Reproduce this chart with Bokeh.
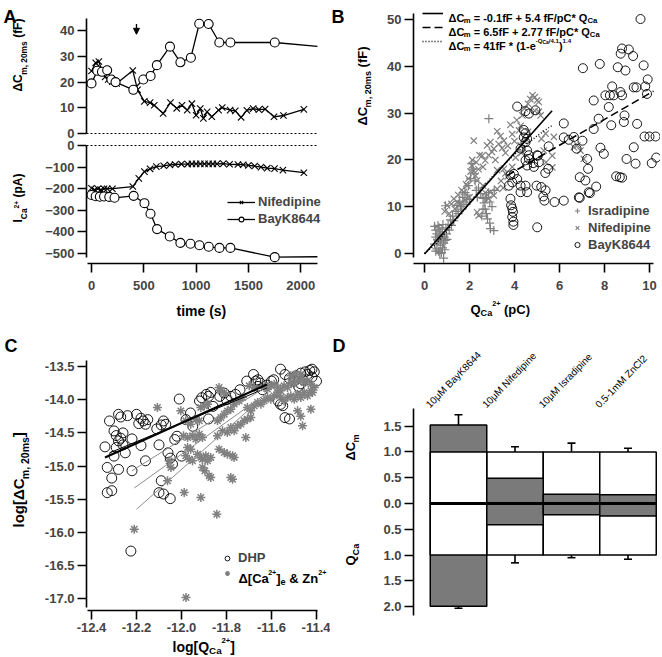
import numpy as np
from bokeh.plotting import figure
from bokeh.layouts import row, column
from bokeh.models import (Range1d, Label, Legend, LegendItem, FixedTicker, LinearAxis,
                          Arrow, NormalHead, Whisker, TeeHead, ColumnDataSource,
                          CustomJSTickFormatter, NumeralTickFormatter)
from bokeh.embed import file_html
from bokeh.resources import INLINE

FONT = "Liberation Sans"
GRAY = "#808080"

# ---------------- Panel A data ----------------
a_nif_cm_t = [0, 40, 70, 100, 130, 160, 200, 240, 395, 440, 505, 560, 600, 685, 755, 815, 865, 915, 960, 1000, 1040, 1070, 1105, 1150, 1215, 1250, 1325, 1375, 1430, 1485, 1545, 1600, 1660, 1745, 1835, 2030]
a_nif_cm = [24.3, 27.5, 28.0, 24.5, 22.0, 21.0, 20.2, 19.5, 24.5, 17.0, 12.5, 12.0, 11.0, 7.8, 12.0, 9.8, 11.0, 9.1, 11.6, 7.1, 9.7, 5.9, 8.4, 6.5, 9.1, 10.1, 9.1, 8.8, 6.3, 9.0, 9.7, 9.3, 9.5, 6.5, 7.0, 9.4]
a_bay_cm_t = [0, 55, 100, 150, 190, 230, 400, 495, 565, 625, 750, 850, 950, 1030, 1120, 1222, 1328, 1752]
a_bay_cm = [19.5, 24.4, 24.0, 24.6, 21.0, 20.0, 17.0, 21.0, 22.4, 26.6, 33.8, 27.7, 29.5, 42.7, 42.6, 35.4, 35.4, 35.4]
a_nif_i_t = [0, 30, 60, 90, 120, 150, 200, 395, 452, 506, 560, 620, 690, 750, 800, 860, 920, 960, 1000, 1040, 1080, 1120, 1160, 1200, 1260, 1320, 1400, 1450, 1500, 1560, 1620, 1680, 1750, 1830, 2030]
a_nif_i = [-198, -205, -200, -205, -200, -200, -200, -190, -152, -121, -108, -98, -94, -90, -88, -86, -86, -85, -85, -85, -85, -85, -85, -85, -84, -87, -88, -89, -92, -95, -100, -105, -107, -114, -126]
a_bay_i_t = [0, 40, 80, 120, 170, 220, 403, 506, 564, 627, 748, 850, 946, 1032, 1121, 1223, 1328, 1752]
a_bay_i = [-229, -235, -237, -236, -238, -242, -233, -267, -316, -387, -421, -451, -455, -462, -469, -474, -474, -517]
a_end_t = 2160            # recording continues (no symbol) to the end of the axis
a_bay_cm_end = 33.9
a_bay_i_end = -515
a_arrow_t = 430
a_cm_ticks = [0, 10, 20, 30, 40]
a_i_ticks = [0, -100, -200, -300, -400, -500]
a_t_ticks = [0, 500, 1000, 1500, 2000]

# ---------------- Panel B data (Q pC, dCm fF) ----------------
b_isr = [(0.45, 2.0), (0.5, 3.5), (0.5, 5.0), (0.55, 1.0), (0.55, 4.2), (0.6, 2.8), (0.6, 6.0), (0.62, 0.5),
         (0.65, 3.8), (0.65, 5.5), (0.7, 1.8), (0.7, 4.6), (0.72, 2.5), (0.75, 0.2), (0.75, 3.2), (0.78, 5.2),
         (0.8, 1.2), (0.8, 4.0), (0.85, 2.2), (0.85, -1.0), (0.88, 3.5), (0.9, 0.8), (0.92, 2.8), (0.95, 5.5),
         (0.98, 4.2), (1.0, 3.0), (1.05, 6.2), (1.1, 5.0), (0.45, 5.8), (0.5, 0.5), (0.58, 3.0), (0.68, 0.0),
         (0.82, 6.2), (0.93, 10.2), (1.15, 7.2), (1.2, 6.0), (1.25, 8.0), (1.3, 7.0), (1.4, 9.0), (1.45, 10.3),
         (1.5, 8.5), (1.55, 11.2), (1.6, 10.0), (1.65, 9.5), (1.7, 12.0), (1.75, 11.0), (1.8, 13.0), (1.85, 10.5),
         (1.9, 12.5), (1.95, 14.5), (2.0, 11.5), (2.05, 16.0), (2.1, 19.2), (2.15, 18.0), (2.2, 17.0), (2.25, 15.5),
         (2.3, 13.5), (2.35, 12.0), (2.4, 14.0), (2.5, 12.8), (2.6, 11.8), (2.65, 10.8), (2.7, 9.5), (2.75, 8.5),
         (2.8, 7.4), (2.85, 13.0), (2.9, 6.5), (2.93, 5.3), (3.08, 4.9), (2.86, 28.8), (2.7, 11.8), (2.6, 9.5),
         (2.75, 12.0), (3.0, 10.0), (2.55, 8.0), (2.9, 11.0), (3.1, 13.5)]
b_nif = [(0.9, 9.0), (1.0, 10.3), (1.1, 8.5), (1.2, 10.6), (1.3, 11.7), (1.35, 9.5), (1.45, 11.0), (1.5, 12.5),
         (1.6, 10.5), (1.65, 13.5), (1.75, 13.1), (1.8, 11.5), (1.85, 14.8), (1.9, 14.5), (1.95, 16.0), (2.0, 12.0),
         (2.05, 17.5), (2.1, 18.8), (2.12, 20.0), (2.19, 24.1), (2.19, 17.7), (2.27, 16.6), (2.34, 15.6), (2.3, 19.5),
         (2.4, 18.0), (2.45, 21.0), (2.56, 20.9), (2.6, 18.5), (2.7, 19.9), (2.78, 23.1), (2.85, 21.0), (2.93, 23.8),
         (3.0, 21.7), (3.08, 22.4), (3.15, 20.0), (3.23, 26.1), (3.3, 23.4), (3.38, 25.1), (3.45, 22.5), (3.53, 24.1),
         (3.6, 21.5), (3.7, 23.0), (3.82, 27.5), (3.9, 25.5), (4.0, 24.0), (4.1, 28.5), (4.2, 26.3), (4.27, 27.3),
         (4.35, 29.5), (4.45, 31.0), (4.6, 32.0), (4.7, 33.0), (4.8, 33.8), (4.9, 33.4), (5.0, 32.7), (5.08, 32.4),
         (5.08, 30.3), (5.16, 29.5), (4.9, 30.5), (5.38, 25.6), (5.75, 24.9), (5.68, 20.9), (5.68, 18.4), (6.64, 22.7),
         (6.79, 23.1), (6.93, 22.0), (7.08, 20.2), (4.27, 23.1), (4.41, 22.4), (3.53, 18.1), (3.6, 17.1), (3.23, 17.8),
         (2.93, 13.1), (3.08, 12.4), (3.23, 13.8), (2.85, 11.7), (2.34, 8.8), (2.41, 8.1), (2.6, 14.5), (2.7, 13.0),
         (3.4, 15.5), (3.5, 14.0), (3.7, 16.5), (3.9, 18.5), (4.05, 20.5), (4.3, 21.5), (4.5, 24.5), (4.6, 26.0),
         (5.4, 19.5), (5.3, 22.0), (5.2, 24.5)]
b_bay = [(3.75, 14.5), (3.82, 16.7), (3.9, 15.2), (3.97, 17.0), (4.12, 15.9), (4.27, 14.5), (4.27, 13.1), (4.49, 14.5),
         (4.56, 13.1), (3.82, 11.7), (3.85, 10.3), (3.9, 9.6), (3.93, 8.9), (3.9, 7.8), (3.95, 6.8), (3.95, 6.1),
         (4.12, 31.4), (4.49, 30.4), (4.64, 29.9), (4.93, 30.6), (4.41, 26.4), (4.49, 25.7), (4.41, 24.8), (4.56, 24.5),
         (4.49, 23.8), (4.27, 22.4), (4.56, 22.0), (4.64, 21.0), (4.49, 19.9), (4.56, 18.8), (4.64, 20.2), (5.01, 21.0),
         (5.08, 19.5), (4.86, 18.5), (5.01, 5.6), (4.98, 14.5), (5.19, 14.2), (5.38, 13.5), (5.28, 12.2), (5.33, 11.3),
         (5.04, 20.9), (4.83, 19.3), (5.5, 18.1), (5.37, 17.2), (5.52, 22.9), (5.78, 11.0), (6.19, 24.8), (6.41, 24.3),
         (6.64, 24.9), (7.02, 24.1), (6.19, 27.8), (6.76, 22.4), (6.9, 16.3), (7.15, 15.6), (7.35, 12.9), (6.9, 11.9),
         (7.23, 20.2), (7.27, 18.1), (7.63, 14.3), (7.82, 22.6), (7.52, 26.6), (7.74, 28.8), (8.3, 27.4), (8.86, 28.1),
         (8.89, 29.5), (9.45, 27.7), (7.52, 32.7), (8.04, 33.8), (8.24, 33.8), (8.41, 33.8), (8.71, 34.5), (8.78, 33.8),
         (8.19, 31.3), (9.3, 35.5), (9.42, 35.5), (8.34, 35.7), (9.81, 35.7), (9.92, 37.2), (9.89, 34.1), (9.74, 40.2),
         (8.93, 39.1), (8.59, 39.8), (7.79, 40.5), (7.04, 39.6), (8.78, 43.8), (9.08, 43.6), (9.27, 42.2), (8.72, 42.7),
         (9.6, 50.1), (9.78, 25.0), (10.0, 25.0), (10.27, 25.0), (10.3, 20.5), (10.1, 19.3), (8.98, 20.2), (9.3, 22.7),
         (8.52, 16.5), (8.68, 16.3), (8.78, 16.2), (6.19, 11.3), (6.86, 12.0), (7.3, 13.1), (7.97, 21.3), (9.38, 19.2)]
b_fit1 = (-0.1, 5.4)          # intercept fF, slope fF/pC
b_fit1_q = [0.0, 5.67]
b_fit2 = (6.5, 2.77)
b_fit2_q = [3.67, 10.18]
b_fit3 = (41.0, 4.1, 1.4)      # amplitude, Q scale, power
b_fit3_q = [0.0, 0.5, 1.0, 1.5, 2.0, 2.5, 3.0, 3.5, 4.0, 4.5, 5.0, 5.4, 5.7]
b_x_ticks = [0, 2, 4, 6, 8, 10]
b_y_ticks = [0, 10, 20, 30, 40, 50]
b_labels = ["Isradipine", "Nifedipine", "BayK8644"]

# ---------------- Panel C data (log Q, log dCm) ----------------
c_dhp = [(-12.34, -14.71), (-12.32, -14.32), (-12.33, -15.02), (-12.31, -15.18), (-12.33, -15.40), (-12.31, -15.37),
         (-12.30, -14.47), (-12.29, -14.54), (-12.28, -14.62), (-12.29, -14.72), (-12.28, -14.22), (-12.27, -14.26),
         (-12.30, -14.85), (-12.28, -15.05), (-12.26, -14.50), (-12.26, -14.68), (-12.27, -14.58), (-12.25, -14.80),
         (-12.24, -14.24), (-12.22, -14.59), (-12.22, -15.07), (-12.225, -16.28), (-12.20, -14.22), (-12.19, -14.36),
         (-12.18, -14.28), (-12.17, -14.32), (-12.16, -14.37), (-12.18, -14.69), (-12.16, -14.92), (-12.15, -14.30),
         (-12.11, -14.44), (-12.10, -14.68), (-12.09, -14.38), (-12.08, -14.32), (-12.07, -14.37), (-12.10, -15.40),
         (-12.08, -15.42), (-12.05, -15.49), (-12.09, -15.22), (-12.06, -14.80), (-12.05, -14.88), (-12.04, -14.97),
         (-12.03, -14.60), (-12.02, -14.55), (-12.01, -13.99), (-12.00, -14.85), (-11.98, -14.30), (-11.96, -14.20),
         (-11.95, -14.40), (-11.92, -14.02), (-11.91, -13.97), (-11.89, -13.92), (-11.88, -14.29), (-11.88, -13.95),
         (-11.87, -13.89), (-11.86, -14.10), (-11.83, -13.95), (-11.81, -13.90), (-11.80, -14.00), (-11.78, -13.95),
         (-11.76, -13.92), (-11.74, -13.85), (-11.71, -13.72), (-11.68, -13.62), (-11.67, -13.72), (-11.66, -13.80),
         (-11.66, -13.70), (-11.65, -13.75), (-11.64, -13.85), (-11.62, -13.78), (-11.60, -13.72), (-11.59, -13.70),
         (-11.57, -14.02), (-11.56, -13.54), (-11.56, -14.07), (-11.55, -14.09), (-11.54, -14.27), (-11.54, -13.62),
         (-11.52, -14.29), (-11.52, -13.68), (-11.50, -13.72), (-11.49, -13.64), (-11.48, -13.80), (-11.47, -13.60),
         (-11.46, -13.70), (-11.45, -13.58), (-11.44, -13.62), (-11.43, -13.56), (-11.42, -13.54), (-11.41, -13.58),
         (-11.40, -13.72), (-11.42, -13.66), (-11.47, -13.76)]
c_zn = [(-12.21, -15.95), (-11.98, -16.98), (-12.107, -14.117), (-12.003, -14.168), (-11.981, -14.318), (-11.959, -14.368),
        (-11.936, -14.293), (-11.921, -14.318), (-11.991, -14.544), (-11.973, -14.569), (-11.951, -14.544), (-11.936, -14.594),
        (-11.921, -14.519), (-11.907, -14.569), (-11.973, -14.720), (-11.959, -14.745), (-12.055, -14.921), (-12.047, -15.021),
        (-12.062, -15.222), (-11.988, -15.398), (-11.981, -14.845), (-11.966, -14.896), (-11.951, -14.921), (-11.929, -14.820),
        (-11.914, -14.870), (-11.907, -14.896), (-11.892, -14.845), (-11.884, -14.921), (-11.870, -14.870), (-11.907, -15.021),
        (-11.896, -15.071), (-11.877, -15.147), (-11.870, -15.172), (-11.914, -15.473), (-11.843, -15.724), (-11.833, -14.745),
        (-11.810, -14.795), (-11.796, -14.820), (-11.781, -15.172), (-11.773, -15.197), (-11.773, -14.845), (-11.766, -14.870),
        (-11.714, -14.569), (-11.840, -14.544), (-11.818, -14.469), (-11.796, -14.494), (-11.781, -14.419), (-11.766, -14.469),
        (-11.751, -14.394), (-11.736, -14.368), (-11.721, -14.318), (-11.707, -14.293), (-11.692, -14.268), (-11.840, -14.318),
        (-11.825, -14.268), (-11.810, -14.218), (-11.796, -14.168), (-11.781, -14.143), (-11.914, -14.117), (-11.899, -14.092),
        (-11.884, -14.067), (-11.833, -13.816), (-11.825, -13.866), (-11.810, -13.892), (-11.707, -14.117), (-11.692, -14.168),
        (-11.677, -14.092), (-11.662, -14.042), (-11.647, -14.067), (-11.633, -14.017), (-11.618, -13.967), (-11.603, -13.992),
        (-11.588, -13.942), (-11.573, -13.892), (-11.633, -13.816), (-11.618, -13.841), (-11.603, -13.791), (-11.588, -13.766),
        (-11.573, -13.816), (-11.559, -13.866), (-11.544, -13.791), (-11.529, -13.816), (-11.514, -13.741), (-11.499, -13.766),
        (-11.484, -13.716), (-11.470, -13.691), (-11.455, -13.741), (-11.440, -13.716), (-11.425, -13.766), (-11.410, -13.816),
        (-11.559, -13.967), (-11.544, -14.017), (-11.529, -13.967), (-11.514, -13.942), (-11.499, -13.992), (-11.484, -13.917),
        (-11.470, -13.967), (-11.455, -13.892), (-11.440, -13.942), (-11.425, -13.866), (-11.484, -14.168), (-11.462, -14.394),
        (-11.470, -14.250), (-11.425, -14.143), (-11.418, -13.892), (-11.514, -13.641), (-11.492, -13.615), (-11.470, -13.615),
        (-11.699, -13.791), (-11.677, -13.816), (-11.766, -14.067), (-11.744, -14.017), (-11.729, -13.967)]
c_fit_x0 = [-12.34, -12.32, -12.22, -12.21, -12.20]
c_fit_y0 = [-14.87, -14.80, -15.07, -15.33, -15.65]
c_fit_x1 = [-11.62, -11.62, -11.62, -11.62, -11.65]
c_fit_y1 = [-13.77, -13.82, -13.80, -13.90, -14.00]
c_fit_color = ["black", "black", "#8c8c8c", "#8c8c8c", "#8c8c8c"]
c_fit_width = [2.2, 1.0, 1.0, 1.0, 1.0]
c_x_ticks = [-12.4, -12.2, -12.0, -11.8, -11.6, -11.4]
c_y_ticks = [-13.5, -14.0, -14.5, -15.0, -15.5, -16.0, -16.5, -17.0]

# ---------------- Panel D data (normalised) ----------------
d_cats = ["10\u03bcM BayK8644", "10\u03bcM Nifedipine", "10\u03bcM Isradipine", "0.5-1mM ZnCl2"]
d_cm_ctrl = [1.0, 1.0, 1.0, 1.0]
d_cm_ctrl_err = [0.12, 0.10, 0.17, 0.07]
d_cm_drug = [1.52, 0.49, 0.18, 0.17]
d_cm_drug_err = [0.20, 0.09, 0.04, 0.05]
d_q_ctrl = [1.0, 1.0, 1.0, 1.0]
d_q_ctrl_err = [0.02, 0.15, 0.05, 0.08]
d_q_drug = [1.99, 0.41, 0.22, 0.24]
d_q_drug_err = [0.04, 0.06, 0.02, 0.03]
d_y_ticks = [1.5, 1.0, 0.5, 0.0, -0.5, -1.0, -1.5, -2.0]

# ---------------- helpers ----------------
BW = {' ': 278, '(': 333, ')': 333, '[': 333, ']': 333, '-': 333, '+': 584, '=': 584, '*': 389,
      '/': 278, '.': 278, ',': 278, '&': 722, '\u0394': 668, 'C': 722, 'Q': 778, 'I': 278, 'F': 611,
      'Z': 611, 'a': 556, 'e': 556, 'f': 333, 'g': 611, 'l': 278, 'm': 889, 'n': 611, 'o': 611,
      'p': 611, 's': 556, 't': 333, 'i': 278}
for _d in "0123456789":
    BW[_d] = 556


def tw(s, fs):
    return sum(BW.get(c, 600) for c in s) * fs / 1000.0


def style_axis(ax, tick_out=9, standoff=3):
    ax.axis_line_width = 1.6
    ax.major_tick_line_width = 1.6
    ax.major_tick_out = tick_out
    ax.major_tick_in = 0
    ax.minor_tick_out = 0
    ax.minor_tick_in = 0
    ax.major_label_text_font = FONT
    ax.major_label_text_font_style = "bold"
    ax.major_label_text_font_size = "13px"
    ax.major_label_standoff = standoff


def make(pl, pt, pw, ph, xcal, ycal, xaxis_py=None, yaxis_px=None):
    """Figure whose frame fills its canvas; xcal=(px, value, px_per_unit), ycal likewise (y up)."""
    px0, vx0, sx = xcal
    py0, vy0, sy = ycal

    def X(px):
        return vx0 + (px - px0) / sx

    def Y(py):
        return vy0 + (py0 - py) / sy
    p = figure(width=pw, height=ph, x_range=Range1d(X(pl), X(pl + pw)), y_range=Range1d(Y(pt + ph), Y(pt)),
               min_border_left=0, min_border_right=0, min_border_top=0, min_border_bottom=0,
               x_axis_location="below" if xaxis_py is not None else None,
               y_axis_location="left" if yaxis_px is not None else None,
               output_backend="svg", toolbar_location=None)
    p.outline_line_color = None
    p.grid.visible = False
    p.background_fill_color = "white"
    p.border_fill_color = "white"
    if xaxis_py is not None:
        p.xaxis.fixed_location = Y(xaxis_py)
    if yaxis_px is not None:
        p.yaxis.fixed_location = X(yaxis_px)
    for ax in p.xaxis:
        style_axis(ax, 9, 8)
    for ax in p.yaxis:
        style_axis(ax, 9, 3)
    return p, (X, Y)


def place(p, conv, bx, by, txt, fs, angle=0.0, style="bold"):
    """Text whose baseline starts at page point (bx, by)."""
    X, Y = conv
    if angle == 0.0:
        p.add_layout(Label(x=X(bx), y=Y(by), text=txt, text_font=FONT, text_font_size=f"{fs:.1f}px",
                           text_font_style=style, text_align="left", text_baseline="alphabetic",
                           text_color="black"))
    else:
        d = 0.62 * fs
        ax_, ay_ = bx - d * np.sin(angle), by - d * np.cos(angle)
        p.add_layout(Label(x=X(ax_), y=Y(ay_), text=txt, angle=angle, text_font=FONT,
                           text_font_size=f"{fs:.1f}px", text_font_style=style, text_align="left",
                           text_baseline="middle", text_color="black"))


def rich(p, conv, px, py, pieces, fs, vertical=False):
    cur = 0.0
    for txt, kind in pieces:
        if kind == "n":
            size, off = fs, 0.0
        elif kind == "sub":
            size, off = fs * 0.7, fs * 0.28
        elif kind == "sup":
            size, off = fs * 0.55, -fs * 0.45
        else:  # sub inside a superscript
            size, off = fs * 0.45, -fs * 0.3
        lead = len(txt) - len(txt.lstrip(" "))
        cur += tw(" " * lead, size)
        body = txt.lstrip(" ")
        if vertical:
            place(p, conv, px + off, py - cur, body, size, angle=np.pi / 2)
        else:
            place(p, conv, px + cur, py + off, body, size)
        cur += tw(body, size)


def letter(p, conv, px, py, t):
    place(p, conv, px, py, t, 18)


def legend(items, loc, gw, gh, sp, so, fs="13px"):
    return Legend(items=items, location=loc, glyph_width=gw, glyph_height=gh, label_height=gh,
                  spacing=sp, padding=0, margin=0, label_standoff=so, border_line_color=None,
                  background_fill_alpha=0, label_text_font=FONT, label_text_font_style="bold",
                  label_text_font_size=fs, label_text_baseline="middle")


# ---------------- Panel A (one canvas, two y scales) ----------------
pa, ca = make(0, 0, 330, 328, (91, 0.0, 52.3 / 500), (133, 0.0, 2.57), xaxis_py=263, yaxis_px=86)
Xa, Ya = ca
I_PY0, I_S = 145, 0.216          # current scale: 0 pA at page y 145, px per pA


def Yi(py):
    return (I_PY0 - py) / I_S


pa.extra_y_ranges = {"ica": Range1d(Yi(328), Yi(0))}
pa.yaxis.ticker = FixedTicker(ticks=a_cm_ticks)
pa.yaxis.bounds = (0, Ya(18))
ax_i = LinearAxis(y_range_name="ica", ticker=FixedTicker(ticks=a_i_ticks), bounds=(Yi(257), 0),
                  fixed_location=Xa(86))
style_axis(ax_i, 9, 3)
pa.add_layout(ax_i, "left")
pa.xaxis.ticker = FixedTicker(ticks=a_t_ticks)
pa.xaxis.bounds = (Xa(87), a_end_t)
pa.segment(x0=[Xa(86)], y0=[0], x1=[a_end_t], y1=[0], line_color="black", line_dash="2 2", line_width=1.2)
pa.segment(x0=[Xa(86)], y0=[0], x1=[a_end_t], y1=[0], line_color="black", line_dash="2 2", line_width=1.2,
           y_range_name="ica")
pa.line(a_nif_cm_t, a_nif_cm, line_color="black", line_width=1.3)
pa.line(a_bay_cm_t + [a_end_t], a_bay_cm + [a_bay_cm_end], line_color="black", line_width=1.3)
pa.scatter(a_nif_cm_t, a_nif_cm, marker="x", size=9, line_color="black", line_width=1.1)
pa.scatter(a_bay_cm_t, a_bay_cm, marker="circle", size=9, line_color="black", fill_color="white", line_width=1.1)
ln1 = pa.line(a_nif_i_t, a_nif_i, line_color="black", line_width=1.3, y_range_name="ica")
ln2 = pa.line(a_bay_i_t + [a_end_t], a_bay_i + [a_bay_i_end], line_color="black", line_width=1.3,
              y_range_name="ica")
sc1 = pa.scatter(a_nif_i_t, a_nif_i, marker="x", size=9, line_color="black", line_width=1.1, y_range_name="ica")
sc2 = pa.scatter(a_bay_i_t, a_bay_i, marker="circle", size=9, line_color="black", fill_color="white",
                 line_width=1.1, y_range_name="ica")
pa.add_layout(Arrow(end=NormalHead(size=6, fill_color="black", line_color="black"),
                    x_start=a_arrow_t, y_start=42.6, x_end=a_arrow_t, y_end=38.6,
                    line_color="black", line_width=1.3))
pa.add_layout(legend([LegendItem(label="Nifedipine", renderers=[ln1, sc1]),
                      LegendItem(label="BayK8644", renderers=[ln2, sc2])], (227, 102), 28, 12, 2, 3))
rich(pa, ca, 25, 91, [("\u0394C", "n"), ("m, 20ms", "sub"), (" (fF)", "n")], 12, vertical=True)
rich(pa, ca, 25, 222, [("I", "n"), ("Ca", "sub"), ("2+", "sup"), (" (pA)", "n")], 12, vertical=True)
place(pa, ca, 176, 310, "time (s)", 14)
letter(pa, ca, 3, 16, "A")

# ---------------- Panel B ----------------
pb, cb = make(330, 0, 330, 328, (424, 0.0, 22.5), (253, 0.0, 4.68), xaxis_py=263, yaxis_px=413)
Xb, Yb = cb
pb.xaxis.ticker = FixedTicker(ticks=b_x_ticks)
pb.yaxis.ticker = FixedTicker(ticks=b_y_ticks)
pb.xaxis.bounds = (Xb(413), Xb(653))
pb.yaxis.bounds = (Yb(257), Yb(13))
r_isr = pb.scatter([q for q, _ in b_isr], [c for _, c in b_isr], marker="cross", size=9,
                   line_color=GRAY, line_width=1.2)
r_nif = pb.scatter([q for q, _ in b_nif], [c for _, c in b_nif], marker="x", size=9,
                   line_color=GRAY, line_width=1.2)
r_bay = pb.scatter([q for q, _ in b_bay], [c for _, c in b_bay], marker="circle", size=9,
                   line_color="black", fill_color=None, line_width=0.9)
q1 = np.array(b_fit1_q)
f1 = pb.line(q1, b_fit1[0] + b_fit1[1] * q1, line_color="black", line_width=1.6)
q2 = np.array(b_fit2_q)
f2 = pb.line(q2, b_fit2[0] + b_fit2[1] * q2, line_color="black", line_width=1.6, line_dash="8 4")
q3 = np.array(b_fit3_q)
f3 = pb.line(q3, b_fit3[0] * (1 - np.exp(-q3 / b_fit3[1])) ** b_fit3[2], line_color="black",
             line_width=1.4, line_dash="1 2")
pb.add_layout(legend([LegendItem(label=" ", renderers=[f1]), LegendItem(label=" ", renderers=[f2]),
                      LegendItem(label=" ", renderers=[f3])], (92, 281), 21, 12, 2, 3, "11px"))
pb.add_layout(legend([LegendItem(label=b_labels[0], renderers=[r_isr]),
                      LegendItem(label=b_labels[1], renderers=[r_nif]),
                      LegendItem(label=b_labels[2], renderers=[r_bay])], (240, 76), 14, 13, 2, 4))
eq_fs = 11
rich(pb, cb, 448, 17, [("\u0394C", "n"), ("m", "sub"), (" = -0.1fF + 5.4 fF/pC* Q", "n"), ("Ca", "sub")], eq_fs)
rich(pb, cb, 448, 31, [("\u0394C", "n"), ("m", "sub"), (" = 6.5fF + 2.77 fF/pC* Q", "n"), ("Ca", "sub")], eq_fs)
rich(pb, cb, 448, 45, [("\u0394C", "n"), ("m", "sub"), (" = 41fF * (1-e", "n"), ("-Q", "sup"),
                       ("Ca", "supsub"), ("/4.1", "sup"), (")", "n"), ("1.4", "sup")], eq_fs)
rich(pb, cb, 370, 125, [("\u0394C", "n"), ("m, 20ms", "sub"), (" (fF)", "n")], 13, vertical=True)
rich(pb, cb, 470, 309, [("Q", "n"), ("Ca", "sub"), ("2+", "sup"), (" (pC)", "n")], 13)
letter(pb, cb, 331, 16, "B")

# ---------------- Panel C ----------------
pc, cc = make(0, 328, 330, 327, (91, -12.4, 225.0), (366, -13.5, 66.4), xaxis_py=610, yaxis_px=86)
Xc, Yc = cc
pc.xaxis.ticker = FixedTicker(ticks=c_x_ticks)
pc.yaxis.ticker = FixedTicker(ticks=c_y_ticks)
pc.xaxis.formatter = NumeralTickFormatter(format="0.0")
pc.yaxis.formatter = NumeralTickFormatter(format="0.0")
pc.xaxis.major_label_standoff = 3
pc.xaxis.bounds = (Xc(87), Xc(317))
pc.yaxis.bounds = (Yc(607), Yc(360))
r_dhp = pc.scatter([a for a, _ in c_dhp], [b for _, b in c_dhp], marker="circle", size=10,
                   line_color="black", fill_color=None, line_width=0.9)
r_zn = pc.scatter([a for a, _ in c_zn], [b for _, b in c_zn], marker="asterisk", size=9,
                  line_color=GRAY, line_width=1.5)
pc.segment(x0=c_fit_x0, y0=c_fit_y0, x1=c_fit_x1, y1=c_fit_y1, line_color=c_fit_color, line_width=c_fit_width)
pc.add_layout(legend([LegendItem(label="DHP", renderers=[r_dhp]),
                      LegendItem(label=" ", renderers=[r_zn])], (220, 76), 14, 12, 2, 4))
rich(pc, cc, 238, 578, [("\u0394[Ca", "n"), ("2+", "sup"), ("]", "n"), ("e", "sub"), (" & Zn", "n"), ("2+", "sup")], 13)
rich(pc, cc, 27, 527, [("log[\u0394C", "n"), ("m, 20ms", "sub"), ("]", "n")], 15, vertical=True)
rich(pc, cc, 172, 646, [("log[Q", "n"), ("Ca", "sub"), ("2+", "sup"), ("]", "n")], 14)
letter(pc, cc, 4, 345, "C")

# ---------------- Panel D ----------------
pd_, cd = make(330, 328, 330, 327, (458, 0.0, 56.5), (503, 0.0, 51.6), yaxis_px=413)
Xd, Yd = cd
pd_.yaxis.ticker = FixedTicker(ticks=d_y_ticks)
pd_.yaxis.formatter = CustomJSTickFormatter(code="return Math.abs(tick).toFixed(1)")
pd_.yaxis.bounds = (Yd(615), Yd(408))
xs = list(range(len(d_cats)))
FILL_DRUG = "#7a7a7a"
back_top, front_top, back_bot, front_bot = [], [], [], []
for i in xs:
    for (back, front, ctrl, drug, sign) in (
            (back_top, front_top, d_cm_ctrl[i], d_cm_drug[i], 1),
            (back_bot, front_bot, d_q_ctrl[i], d_q_drug[i], -1)):
        if drug > ctrl:
            back.append((sign * drug, FILL_DRUG))
            front.append((sign * ctrl, "white"))
        else:
            back.append((sign * ctrl, "white"))
            front.append((sign * drug, FILL_DRUG))
for group in (back_top, back_bot, front_top, front_bot):
    pd_.vbar(x=xs, width=1.0, bottom=0, top=[v for v, _ in group], fill_color=[c for _, c in group],
             line_color="black", line_width=1.5)
pd_.segment(x0=[min(xs) - 0.5], y0=[0], x1=[max(xs) + 0.5], y1=[0], line_color="black", line_width=3)
err_src = ColumnDataSource(dict(
    x=xs * 4,
    v=d_cm_ctrl + d_cm_drug + [-v for v in d_q_ctrl] + [-v for v in d_q_drug],
    e=d_cm_ctrl_err + d_cm_drug_err + d_q_ctrl_err + d_q_drug_err))
err_src.data["lo"] = [v - e for v, e in zip(err_src.data["v"], err_src.data["e"])]
err_src.data["hi"] = [v + e for v, e in zip(err_src.data["v"], err_src.data["e"])]
pd_.add_layout(Whisker(source=err_src, base="x", upper="hi", lower="lo", dimension="height",
                       line_color="black", line_width=1.6,
                       upper_head=TeeHead(size=8, line_width=1.6, line_color="black"),
                       lower_head=TeeHead(size=8, line_width=1.6, line_color="black")))
for i, name in enumerate(d_cats):
    bx = 458 + (i - 0.47) * 56.5
    place(pd_, cd, bx, 410, name, 10, angle=0.8, style="normal")
rich(pd_, cd, 358, 460, [("\u0394C", "n"), ("m", "sub")], 13, vertical=True)
rich(pd_, cd, 358, 565, [("Q", "n"), ("Ca", "sub")], 13, vertical=True)
letter(pd_, cd, 332, 345, "D")

layout = column(row(pa, pb), row(pc, pd_))
open("out.html", "w").write(file_html(layout, INLINE))
